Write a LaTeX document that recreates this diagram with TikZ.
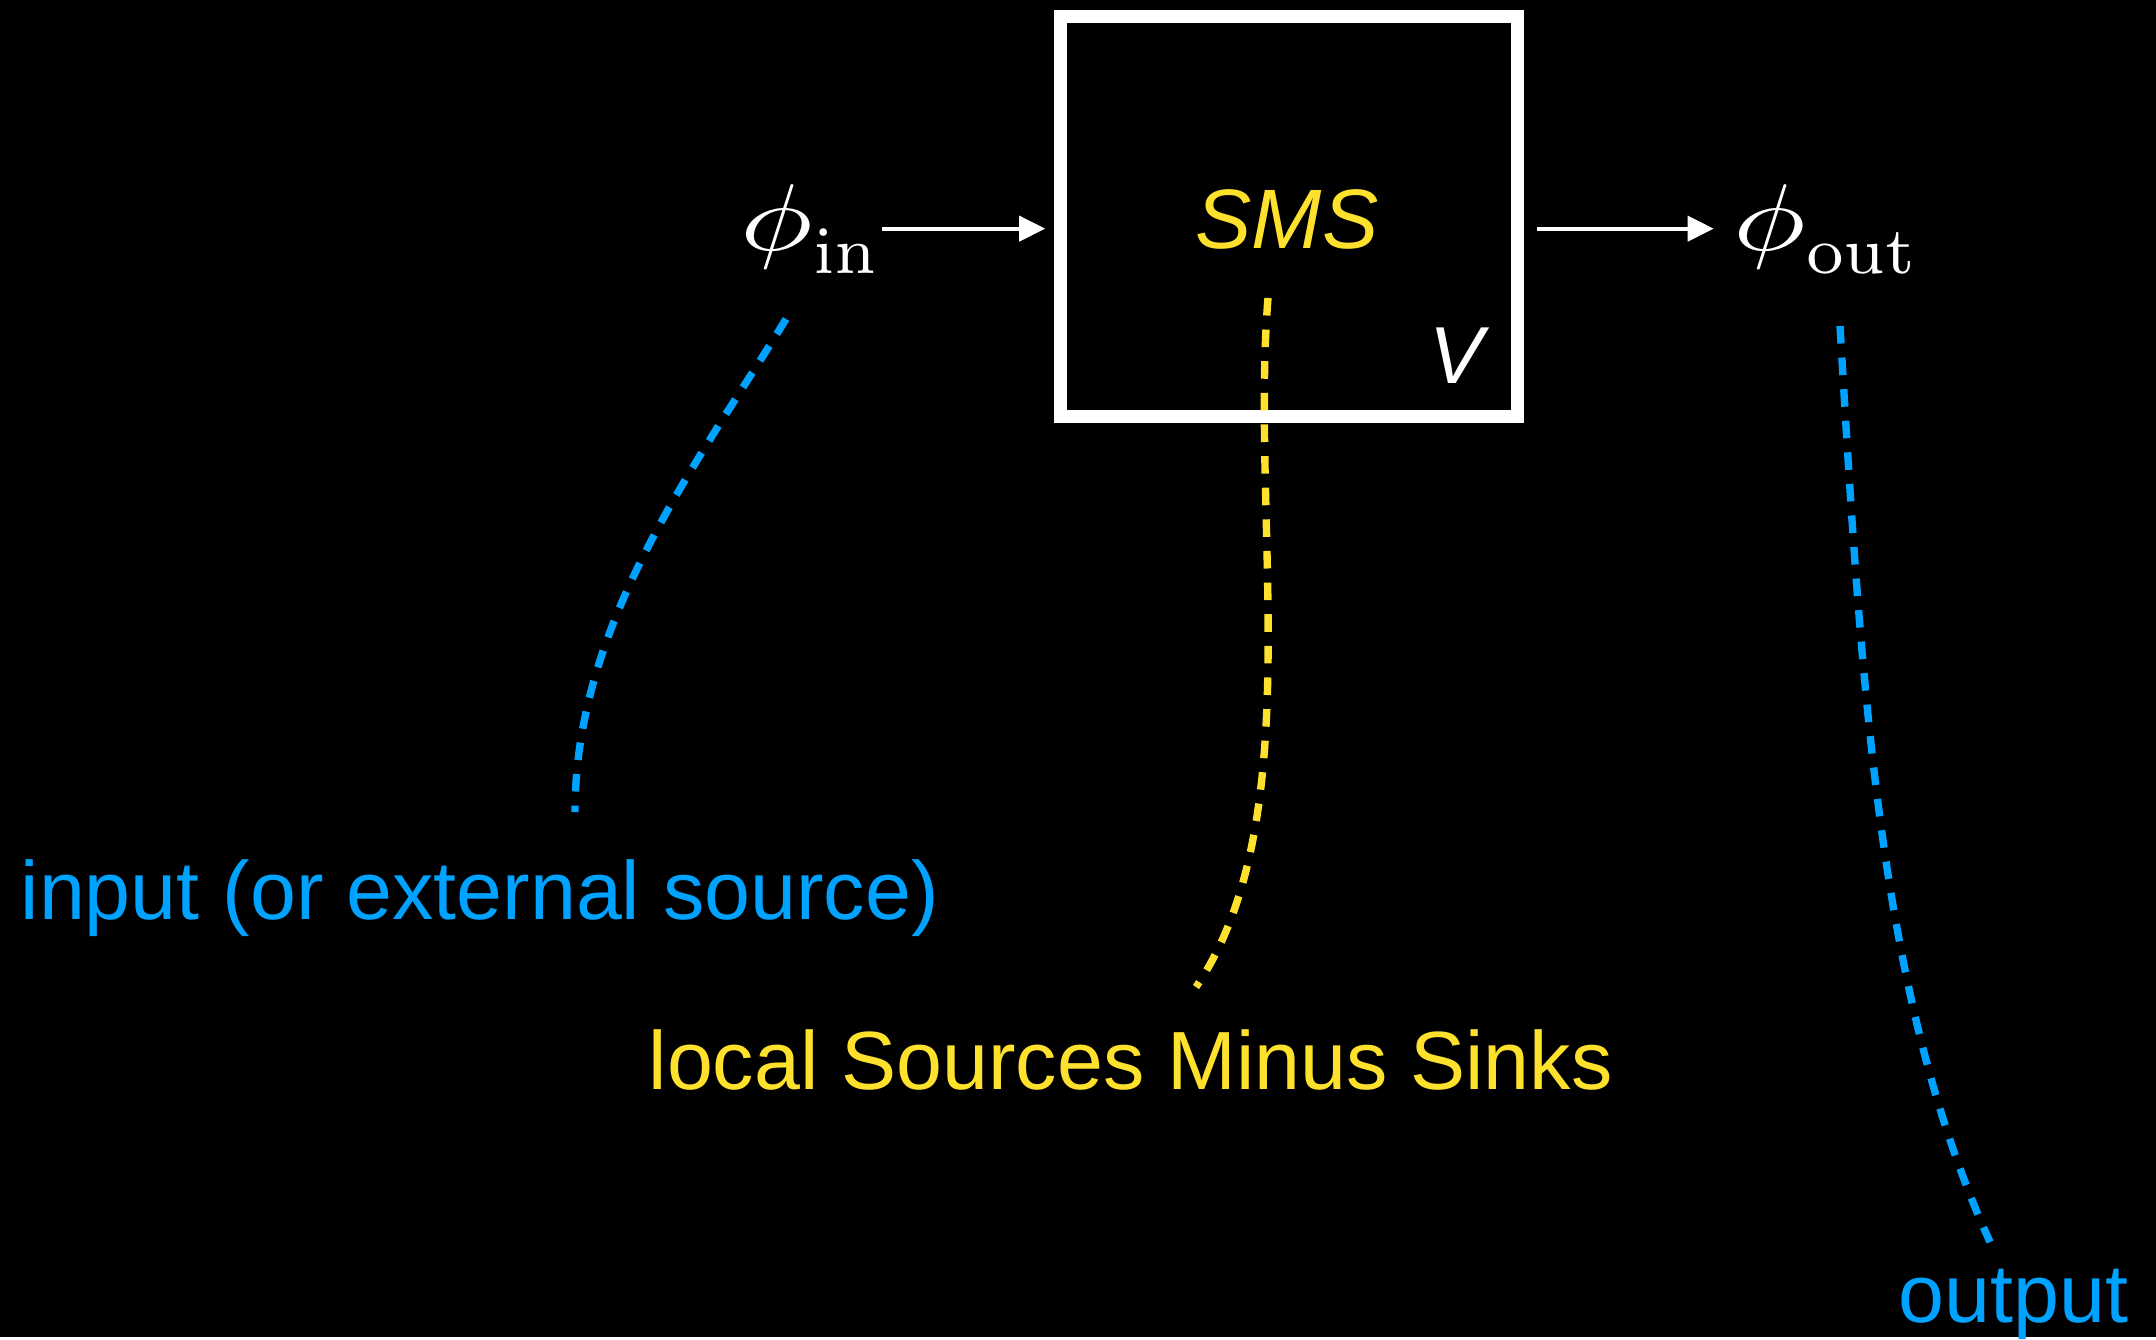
\documentclass[tikz,border=0pt]{standalone}
\usepackage[no-math]{fontspec}
\setmainfont{Liberation Sans}
\usetikzlibrary{arrows.meta, positioning}
\definecolor{inblue}{RGB}{0, 162, 255}
\definecolor{smsyellow}{RGB}{253, 225, 45}
\newcommand{\widephi}{\scalebox{1.28}[1]{$\phi$}}

\begin{document}
\begin{tikzpicture}[
  tag/.style={inner sep=0pt, font=\fontsize{23.5}{28}\selectfont},
  flux/.style={inner sep=0pt, text=white},
  flow/.style={-{Triangle[length=7.4pt, width=7.1pt]}, white, line width=1.2pt},
  guide/.style={line width=2.1pt, dash pattern=on 5pt off 4pt}
]
  % Background
  \fill[black] (0, 0) rectangle (21.56, -13.37);

  % Control volume
  \node[draw=white, line width=3.7pt, minimum width=4.57cm, minimum height=4.0cm, inner sep=0pt] (box) at (12.89, -2.165) {};
  \node[inner sep=0pt, anchor=base, text=smsyellow, font=\fontsize{24}{28}\selectfont\itshape] (sms) at (12.87, -2.48) {SMS};
  \node[inner sep=0pt, anchor=base, text=white, font=\fontsize{23}{28}\selectfont\itshape] (vol) at (14.56, -3.83) {V};

  % Fluxes
  \node[flux, anchor=base west] (phin) at (7.40, -2.50) {\scalebox{2.7}{$\widephi_{\mathrm{in}}$}};
  \node[flux, anchor=base west] (phout) at (17.33, -2.50) {\scalebox{2.7}{$\widephi_{\mathrm{out}}$}};

  \draw[flow, shorten >=2.5pt] (phin.east) -- (phin.east -| box.west);
  \draw[flow, shorten <=3.7pt, shorten >=5.5pt] (phout.west -| box.east) -- (phout.west);

  % Labels
  \node[tag, anchor=base west, text=inblue] (input) at (0.20, -9.19) {input (or external source)};
  \node[tag, anchor=base west, text=smsyellow] (local) at (6.48, -10.89) {local Sources Minus Sinks};
  \node[tag, anchor=base west, text=inblue] (output) at (18.98, -13.22) {output};

  % Pointers
  \coordinate (inA) at (7.86, -3.19);
  \coordinate (inB) at (5.75, -8.12);
  \coordinate (smsA) at (12.68, -2.98);
  \coordinate (smsB) at (11.96, -9.87);
  \coordinate (outA) at (18.40, -3.26);
  \coordinate (outB) at (19.90, -12.42);

  \draw[guide, inblue] (inA) .. controls (7.00, -4.60) and (5.75, -6.20) .. (inB);
  \draw[guide, smsyellow] (smsA) .. controls (12.50, -5.20) and (13.10, -8.20) .. (smsB);
  \draw[guide, inblue] (outA) .. controls (18.62, -7.00) and (18.80, -10.00) .. (outB);
\end{tikzpicture}
\end{document}
